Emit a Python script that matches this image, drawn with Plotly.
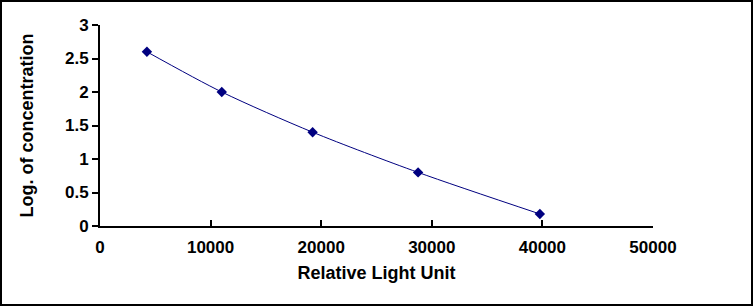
import plotly.graph_objects as go

# Data
rlu = [4242, 11011, 19224, 28760, 39770]
log_conc = [2.6, 2.0, 1.4, 0.8, 0.18]

x_ticks = [0, 10000, 20000, 30000, 40000, 50000]
x_tick_text = ["0", "10000", "20000", "30000", "40000", "50000"]
y_ticks = [0, 0.5, 1, 1.5, 2, 2.5, 3]
y_tick_text = ["0", "0.5", "1", "1.5", "2", "2.5", "3"]

W, H = 754, 307
L, R, T, B = 100, 101, 25, 81
pw, ph = W - L - R, H - T - B

font_fam = "Arial, Liberation Sans, sans-serif"

fig = go.Figure()
fig.add_trace(go.Scatter(
    x=rlu, y=log_conc, mode="lines+markers",
    line=dict(color="#000080", width=1, shape="spline", smoothing=0.8),
    marker=dict(symbol="diamond", size=8, color="#000080"),
    showlegend=False, cliponaxis=False,
))

fig.update_layout(
    width=W, height=H,
    margin=dict(l=L, r=R, t=T, b=B),
    paper_bgcolor="white", plot_bgcolor="white",
    font=dict(family=font_fam, color="black"),
    xaxis=dict(
        range=[0, 50000], tickvals=x_ticks,
        ticktext=["<b>%s</b>" % t for t in x_tick_text],
        showgrid=False, zeroline=False,
        showline=True, linecolor="black", linewidth=2,
        ticks="inside", ticklen=6, tickwidth=2, tickcolor="black",
        ticklabelstandoff=5,
        tickfont=dict(size=17, family=font_fam, color="black"),
        title=dict(text="<b>Relative Light Unit</b>", font=dict(size=18), standoff=10),
    ),
    yaxis=dict(
        range=[0, 3], tickvals=y_ticks,
        ticktext=["<b>%s</b>" % t for t in y_tick_text],
        showgrid=False, zeroline=False,
        showline=True, linecolor="black", linewidth=2,
        ticks="outside", ticklen=6, tickwidth=2, tickcolor="black",
        tickfont=dict(size=17, family=font_fam, color="black"),
        title=dict(text="<b>Log. of concentration</b>", font=dict(size=18), standoff=27),
    ),
)

# outer frame of the picture
def px_to_paper_x(px):
    return (px - L) / pw

def px_to_paper_y(py):
    return 1 - (py - T) / ph

fig.add_shape(type="rect", xref="paper", yref="paper",
              x0=px_to_paper_x(1), x1=px_to_paper_x(752),
              y0=px_to_paper_y(305), y1=px_to_paper_y(1),
              line=dict(color="black", width=2), fillcolor="rgba(0,0,0,0)")

fig.write_html("out.html")
